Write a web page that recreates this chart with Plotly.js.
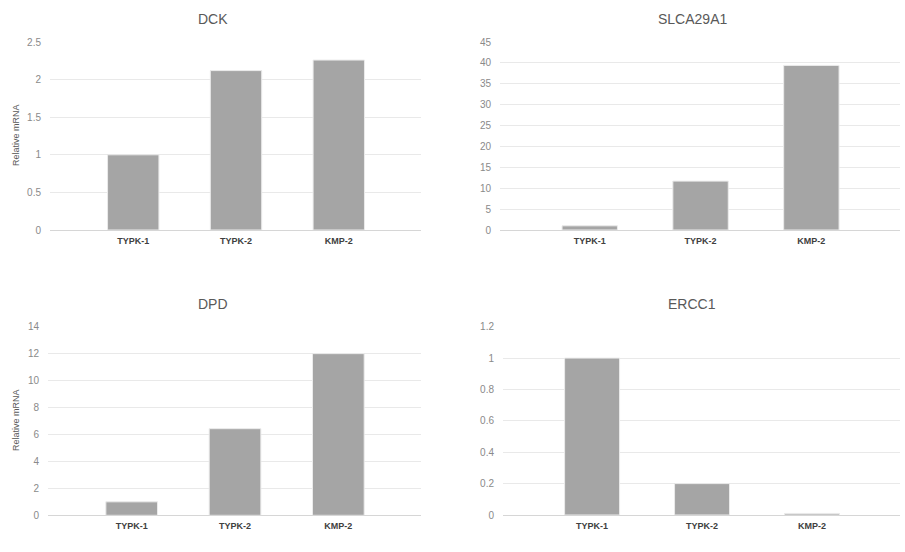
<!DOCTYPE html>
<html>
<head>
<meta charset="utf-8">
<script src="https://cdn.plot.ly/plotly-3.0.1.min.js"></script>
<style>html,body{margin:0;padding:0;background:#fff;}#chart{width:905px;height:552px;}</style>
</head>
<body>
<div id="chart"></div>
<script>
const categories = ['TYPK-1', 'TYPK-2', 'KMP-2'];
const dckValues = [1, 2.12, 2.26];
const slcaValues = [1, 11.7, 39.4];
const dpdValues = [1, 6.43, 12];
const erccValues = [1, 0.2, 0.01];
const panelTitles = ['DCK', 'SLCA29A1', 'DPD', 'ERCC1'];
const yTitle = 'Relative mRNA';

const W = 905, H = 552;
const FONT = 'Liberation Sans, Arial, sans-serif';
const barColor = '#a5a5a5';

function bar(vals, xa, ya) {
  return {
    type: 'bar', x: categories, y: vals, xaxis: xa, yaxis: ya,
    width: 0.5,
    marker: {color: barColor, line: {color: '#ebebeb', width: 1}},
    hoverinfo: 'x+y', showlegend: false
  };
}
const data = [
  bar(dckValues, 'x', 'y'),
  bar(slcaValues, 'x2', 'y2'),
  bar(dpdValues, 'x3', 'y3'),
  bar(erccValues, 'x4', 'y4')
];

function xAxis(l, r, anchor) {
  return {
    domain: [l / W, r / W], anchor: anchor, type: 'category',
    range: [-0.81, 2.8], showgrid: false, showline: false, zeroline: false,
    ticks: '', ticklabelstandoff: 4,
    tickfont: {family: FONT, size: 9, color: '#404040', weight: 'bold'},
    fixedrange: true
  };
}
function yAxis(top, bottom, range, dtick, anchor) {
  return {
    domain: [1 - bottom / H, 1 - top / H], anchor: anchor,
    range: range, dtick: dtick, tick0: 0,
    showgrid: true, gridcolor: '#e9e9e9', gridwidth: 1,
    zeroline: true, zerolinecolor: '#d6d6d6', zerolinewidth: 1,
    showline: false, ticks: '', ticklabelstandoff: 8,
    tickfont: {family: FONT, size: 10, color: '#8a8a8a'},
    fixedrange: true
  };
}

const layout = {
  width: W, height: H,
  margin: {l: 0, r: 0, t: 0, b: 0},
  paper_bgcolor: '#fff', plot_bgcolor: '#fff',
  bargap: 0.5,
  xaxis: xAxis(50, 421, 'y'),
  yaxis: yAxis(42, 230, [0, 2.5], 0.5, 'x'),
  xaxis2: xAxis(500, 900, 'y2'),
  yaxis2: yAxis(42, 230, [0, 45], 5, 'x2'),
  xaxis3: xAxis(48, 421, 'y3'),
  yaxis3: yAxis(326.7, 515.3, [0, 14], 2, 'x3'),
  xaxis4: xAxis(503, 900, 'y4'),
  yaxis4: yAxis(326.7, 515, [0, 1.2], 0.2, 'x4'),
  annotations: [
    {text: panelTitles[0], x: 213 / W, y: 1 - 19 / H},
    {text: panelTitles[1], x: 692 / W, y: 1 - 19 / H},
    {text: panelTitles[2], x: 213 / W, y: 1 - 304 / H},
    {text: panelTitles[3], x: 692 / W, y: 1 - 304 / H}
  ].map(a => Object.assign(a, {
    xref: 'paper', yref: 'paper', showarrow: false, xanchor: 'center', yanchor: 'middle',
    font: {family: FONT, size: 14, color: '#595959'}
  })).concat([
    {text: yTitle, x: 16 / W, y: 1 - 135 / H},
    {text: yTitle, x: 16 / W, y: 1 - 420 / H}
  ].map(a => Object.assign(a, {
    xref: 'paper', yref: 'paper', showarrow: false, xanchor: 'center', yanchor: 'middle',
    textangle: -90, font: {family: FONT, size: 9, color: '#595959'}
  })))
};

Plotly.newPlot('chart', data, layout, {displayModeBar: false, staticPlot: true});
</script>
</body>
</html>
